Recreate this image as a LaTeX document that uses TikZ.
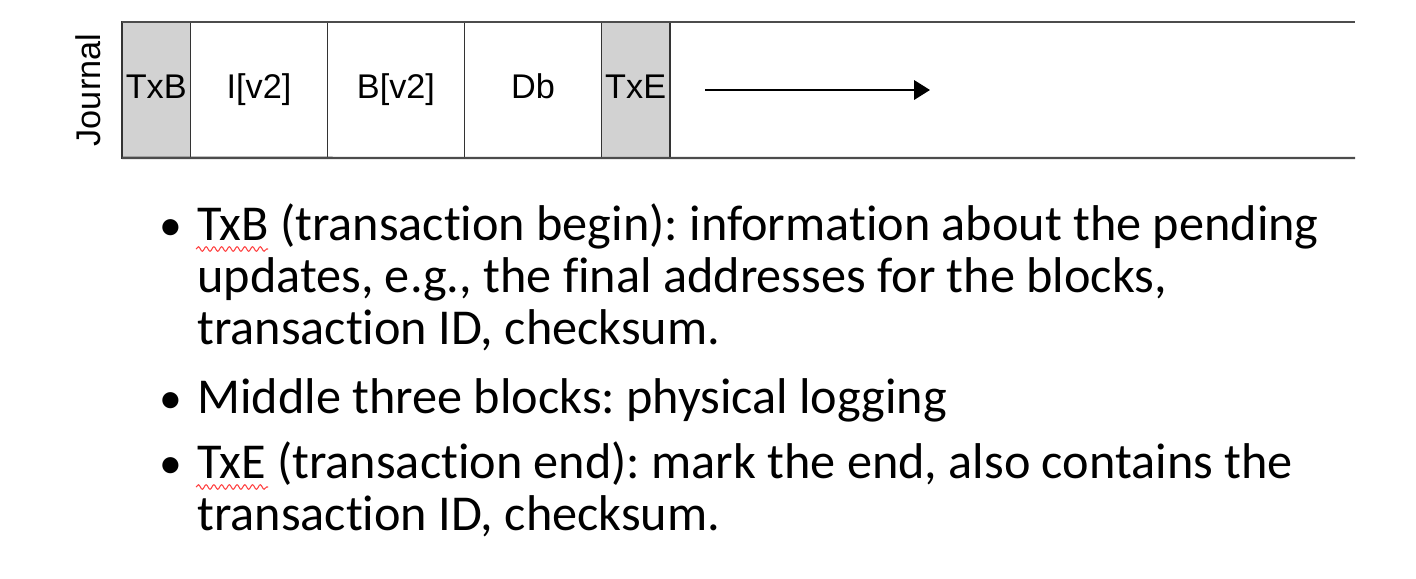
\documentclass[tikz,border=0pt]{standalone}
\usepackage{fontspec}
\setmainfont{Carlito}[Ligatures={NoCommon}]
\newfontfamily\cellfont{Liberation Sans}
\usetikzlibrary{arrows.meta, positioning, decorations.pathmorphing}
\frenchspacing

\begin{document}
\begin{tikzpicture}[
    x=0.02cm, y=-0.02cm,
    node distance=0pt,
    cell/.style={rectangle, draw=black!80, line width=1pt, outer sep=0pt,
    minimum height=2.72cm, inner sep=0pt, text height=14pt, text depth=4pt,
    font=\cellfont\fontsize{19.5}{22}\selectfont},
    narrow/.style={cell, fill=gray!35, minimum width=1.37cm},
    wide/.style={cell, fill=white, minimum width=2.74cm},
    bullettext/.style={anchor=base west, inner sep=0pt,
    font=\fontsize{28.6}{32}\selectfont},
    arrow/.style={-{Triangle[length=9pt, width=11pt]}, line width=1.1pt},
    typo/.style={draw=red!75, line width=0.6pt, decorate,
    decoration={snake, amplitude=1.3pt, segment length=4.4pt}} ]

    \useasboundingbox (0,0) rectangle (1416,578);

    % Journal blocks
    \node[narrow, anchor=north west] (txb) at (122,22) {TxB};
    \node[wide, right=of txb] (iv) {I[v2]};
    \node[wide, right=of iv] (bv) {B[v2]};
    \node[wide, right=of bv] (db) {Db};
    \node[narrow, right=of db] (txe) {TxE};
    \node[rotate=90, inner sep=0pt, font=\cellfont\fontsize{19.5}{22}\selectfont]
        (journal) at (88,90) {Journal};

    % Open end of the journal
    \coordinate (top_end) at (1355,22);
    \coordinate (bot_end) at (1355,158);
    \draw[black!70, line width=1.4pt] (txb.north west) -- (top_end);
    \draw[black!70, line width=1.4pt] (txb.south west) -- (bot_end);

    % Direction of writing
    \coordinate (arr_start) at (705,90);
    \coordinate (arr_end) at (930,90);
    \draw[arrow] (arr_start) -- (arr_end);

    % Bullet list
    \foreach \yy in {240, 413, 478}
        \node[bullettext, font=\fontsize{26}{30}\selectfont] at (159,\yy) {\textbullet};
    \node[bullettext] (l1) at (197,240)
        {TxB (transaction begin): information about the pending};
    \node[bullettext] (l2) at (197,292)
        {updates, e.g., the final addresses for the blocks,};
    \node[bullettext] (l3) at (197,344)
        {transaction ID, checksum.};
    \node[bullettext] (l4) at (197,413)
        {Middle three blocks: physical logging};
    \node[bullettext] (l5) at (197,478)
        {TxE (transaction end): mark the end, also contains the};
    \node[bullettext] (l6) at (197,530)
        {transaction ID, checksum.};

    % Spell-check marks
    \draw[typo] (196,249) -- (268,249);
    \draw[typo] (196,487) -- (268,487);

\end{tikzpicture}
\end{document}
